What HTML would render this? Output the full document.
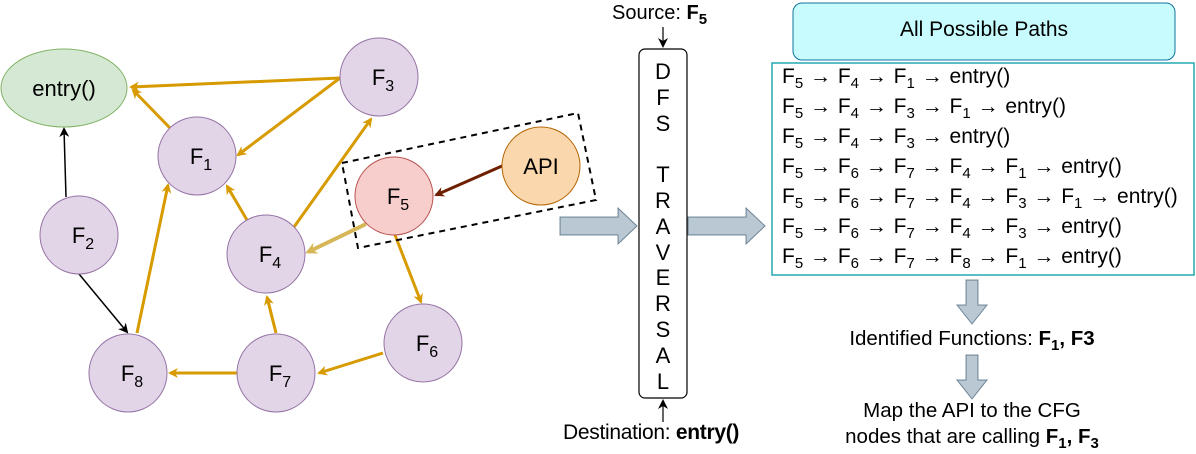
<!DOCTYPE html>
<html><head><meta charset="utf-8"><style>
body{margin:0;width:1196px;height:454px;background:#fff;position:relative;overflow:hidden;font-family:"Liberation Sans",sans-serif;color:#000}
svg{position:absolute;left:0;top:0}
.t{position:absolute;white-space:nowrap}
.paths{position:absolute;left:782px;top:62px;font-size:21px;line-height:30px;word-spacing:1px}
sub{font-size:15px;vertical-align:-5px;line-height:0}
.b{font-weight:bold}
</style></head><body>
<svg width="1196" height="454" viewBox="0 0 1196 454">
<defs>
<marker id="ao" markerWidth="10" markerHeight="10" refX="8" refY="5" orient="auto" markerUnits="userSpaceOnUse"><path d="M0,0 L10,5 L0,10 L3,5z" fill="#d79b00"/></marker>
<marker id="ay" markerWidth="12" markerHeight="12" refX="9" refY="6" orient="auto" markerUnits="userSpaceOnUse"><path d="M0,0 L12,6 L0,12 L4,6z" fill="#d6b656"/></marker>
<marker id="ak" markerWidth="10" markerHeight="10" refX="8" refY="5" orient="auto" markerUnits="userSpaceOnUse"><path d="M0,0 L10,5 L0,10 L3,5z" fill="#000"/></marker>
<marker id="ab" markerWidth="10" markerHeight="10" refX="8" refY="5" orient="auto" markerUnits="userSpaceOnUse"><path d="M0,0 L10,5 L0,10 L3,5z" fill="#6d1f00"/></marker>
</defs>
<g stroke="#d79b00" stroke-width="3" fill="none" marker-end="url(#ao)">
<line x1="340" y1="78" x2="131" y2="87"/>
<line x1="340" y1="78" x2="238" y2="155"/>
<line x1="170" y1="128" x2="133" y2="90"/>
<line x1="294" y1="227" x2="371" y2="119"/>
<line x1="247" y1="220" x2="227" y2="186"/>
<line x1="137" y1="333" x2="168" y2="185"/>
<line x1="395" y1="235" x2="421" y2="302"/>
<line x1="276" y1="333" x2="267" y2="297"/>
<line x1="383" y1="353" x2="319" y2="373"/>
<line x1="237" y1="373" x2="170" y2="373"/>
</g>
<line x1="366" y1="224" x2="308" y2="252" stroke="#d6b656" stroke-width="4" marker-end="url(#ay)"/>
<line x1="66" y1="197" x2="64" y2="129" stroke="#000" stroke-width="1.5" marker-end="url(#ak)"/>
<line x1="79" y1="274" x2="127" y2="332" stroke="#000" stroke-width="1.5" marker-end="url(#ak)"/>
<line x1="502" y1="166" x2="436" y2="195" stroke="#6d1f00" stroke-width="3" marker-end="url(#ab)"/>
<polygon points="342,163 578,113 596,200 358,248" fill="none" stroke="#000" stroke-width="2" stroke-dasharray="6,5"/>
<ellipse cx="64" cy="88" rx="63" ry="39" fill="#d5e8d4" stroke="#82b366"/>
<g fill="#e1d5e7" stroke="#9673a6">
<circle cx="379" cy="77" r="39"/>
<circle cx="197" cy="156" r="39"/>
<circle cx="79" cy="235" r="39"/>
<circle cx="266" cy="254" r="39"/>
<circle cx="423" cy="343" r="39"/>
<circle cx="276" cy="373" r="39"/>
<circle cx="128" cy="373" r="39"/>
</g>
<circle cx="394" cy="196" r="39" fill="#f8cecc" stroke="#b85450"/>
<circle cx="541" cy="166" r="39" fill="#fad7ac" stroke="#b46504"/>
<g font-size="22" text-anchor="middle">
<text x="64" y="96">entry()</text>
<text x="383" y="85">F<tspan font-size="16" dy="6">3</tspan></text>
<text x="201" y="164">F<tspan font-size="16" dy="6">1</tspan></text>
<text x="83" y="243">F<tspan font-size="16" dy="6">2</tspan></text>
<text x="270" y="262">F<tspan font-size="16" dy="6">4</tspan></text>
<text x="398" y="204">F<tspan font-size="16" dy="6">5</tspan></text>
<text x="427" y="351">F<tspan font-size="16" dy="6">6</tspan></text>
<text x="280" y="381">F<tspan font-size="16" dy="6">7</tspan></text>
<text x="132" y="381">F<tspan font-size="16" dy="6">8</tspan></text>
<text x="541" y="174">API</text>
</g>
<g fill="#bac8d3" stroke="#23445d" stroke-width="1" stroke-opacity="0.6">
<polygon points="560,217 618,217 618,208 637,226 618,244 618,235 560,235"/>
<polygon points="688,217 746,217 746,208 765,226 746,244 746,235 688,235"/>
<polygon points="966,280 978,280 978,305 987,305 972,324 957,305 966,305"/>
<polygon points="966,355 978,355 978,380 987,380 972,399 957,380 966,380"/>
</g>
<rect x="639" y="49" width="48" height="349" rx="6" fill="#fff" stroke="#000" stroke-width="1.2"/>
<line x1="663" y1="27" x2="663" y2="46" stroke="#000" stroke-width="1.2" marker-end="url(#ak)"/>
<line x1="663" y1="422" x2="663" y2="401" stroke="#000" stroke-width="1.2" marker-end="url(#ak)"/>
<rect x="793" y="3" width="382" height="57" rx="9" fill="#c7fbfd" stroke="#10739e" stroke-width="1"/>
<rect x="772" y="63" width="422" height="212" fill="#fff" stroke="#23a8b0" stroke-width="1.5"/>
</svg>
<div class="t" style="left:612px;top:2px;font-size:20px">Source: <span class="b">F<sub>5</sub></span></div>
<div class="t" style="left:563px;top:421px;font-size:21px;letter-spacing:-0.3px">Destination: <span class="b">entry()</span></div>
<div class="t" style="left:651px;top:59px;font-size:22px;line-height:25.8px;width:24px;text-align:center">D<br>F<br>S<br><br>T<br>R<br>A<br>V<br>E<br>R<br>S<br>A<br>L</div>
<div class="t" style="left:793px;top:18px;width:382px;text-align:center;font-size:21px">All Possible Paths</div>
<div class="paths">
F<sub>5</sub> → F<sub>4</sub> → F<sub>1</sub> → entry()<br>
F<sub>5</sub> → F<sub>4</sub> → F<sub>3</sub> → F<sub>1</sub> → entry()<br>
F<sub>5</sub> → F<sub>4</sub> → F<sub>3</sub> → entry()<br>
F<sub>5</sub> → F<sub>6</sub> → F<sub>7</sub> → F<sub>4</sub> → F<sub>1</sub> → entry()<br>
F<sub>5</sub> → F<sub>6</sub> → F<sub>7</sub> → F<sub>4</sub> → F<sub>3</sub> → F<sub>1</sub> → entry()<br>
F<sub>5</sub> → F<sub>6</sub> → F<sub>7</sub> → F<sub>4</sub> → F<sub>3</sub> → entry()<br>
F<sub>5</sub> → F<sub>6</sub> → F<sub>7</sub> → F<sub>8</sub> → F<sub>1</sub> → entry()
</div>
<div class="t" style="left:772px;top:327px;width:400px;text-align:center;font-size:20.5px">Identified Functions: <span class="b">F<sub>1</sub>, F3</span></div>
<div class="t" style="left:772px;top:398px;width:400px;text-align:center;font-size:20.5px;line-height:26px">Map the API to the CFG<br>nodes that are calling <span class="b">F<sub>1</sub>, F<sub>3</sub></span></div>
</body></html>
